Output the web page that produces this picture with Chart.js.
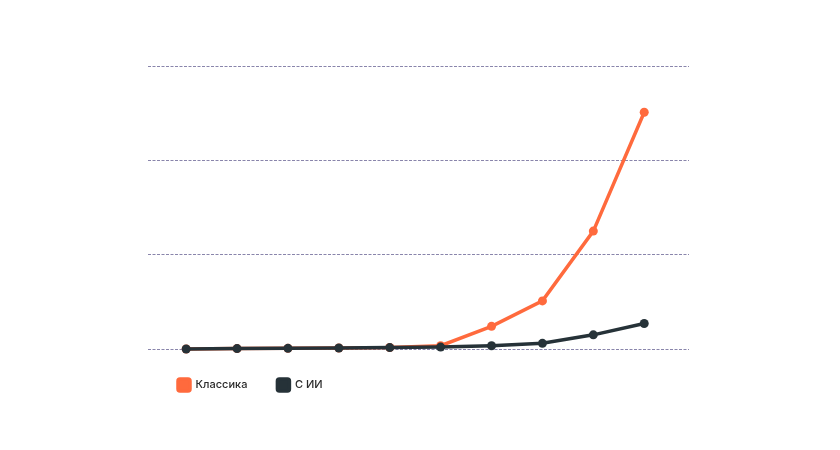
<!DOCTYPE html>
<html>
<head>
<meta charset="utf-8">
<script src="https://cdn.jsdelivr.net/npm/chart.js@4"></script>
<style>
	html, body { margin: 0; padding: 0; background: #fff; }
	#wrap { width: 840px; height: 450px; }
</style>
</head>
<body>
<div id="wrap"><canvas id="lineChart" width="840" height="450"></canvas></div>
<script>
	// steps along x (no labels shown on the chart)
	var steps = [1, 2, 3, 4, 5, 6, 7, 8, 9, 10];
	var classicValues = [0, 0.4, 0.7, 1, 1.6, 3.5, 24, 51, 125, 251];
	var aiValues = [0, 0.4, 0.7, 1, 1.5, 2, 3.5, 6, 15, 27];
	var seriesNames = ['Классика', 'С ИИ'];
	var yTicks = [0, 100, 200, 300];

	function toPoints(values) {
		return values.map(function(v, i) {
			return { x: i, y: v };
		});
	}

	var ctx = document.getElementById('lineChart');
	var chart = new Chart(ctx, {
		type: 'line',
		data: {
			datasets: [{
				label: seriesNames[0],
				data: toPoints(classicValues),
				borderColor: '#ff6a3d',
				backgroundColor: '#ff6a3d',
				borderWidth: 3.5,
				pointRadius: 4.5,
				pointBorderWidth: 0,
				order: 1,
				clip: false
			}, {
				label: seriesNames[1],
				data: toPoints(aiValues),
				borderColor: '#263238',
				backgroundColor: '#263238',
				borderWidth: 3.5,
				pointRadius: 4.5,
				pointBorderWidth: 0,
				order: 0,
				clip: false
			}]
		},
		options: {
			responsive: false,
			animation: false,
			layout: {
				padding: { left: 148, right: 151, top: 66, bottom: 49 }
			},
			scales: {
				x: {
					type: 'linear',
					display: false,
					min: -0.75,
					max: steps.length - 1 + 0.88
				},
				y: {
					min: yTicks[0],
					max: yTicks[yTicks.length - 1],
					afterBuildTicks: function(axis) {
						axis.ticks = yTicks.map(function(v) { return { value: v }; });
					},
					ticks: { display: false },
					grid: { color: '#8985ab', lineWidth: 1, drawTicks: false },
					border: { display: false, dash: [3, 1.5] }
				}
			},
			plugins: {
				tooltip: { enabled: false },
				legend: {
					position: 'bottom',
					align: 'start',
					labels: {
						sort: function(a, b) { return a.datasetIndex - b.datasetIndex; },
						boxWidth: 12,
						boxHeight: 12,
						useBorderRadius: true,
						borderRadius: 2,
						padding: 30,
						color: '#2b2b2b',
						font: { family: 'Inter', size: 11, weight: '500' }
					}
				}
			}
		}
	});
</script>
</body>
</html>
